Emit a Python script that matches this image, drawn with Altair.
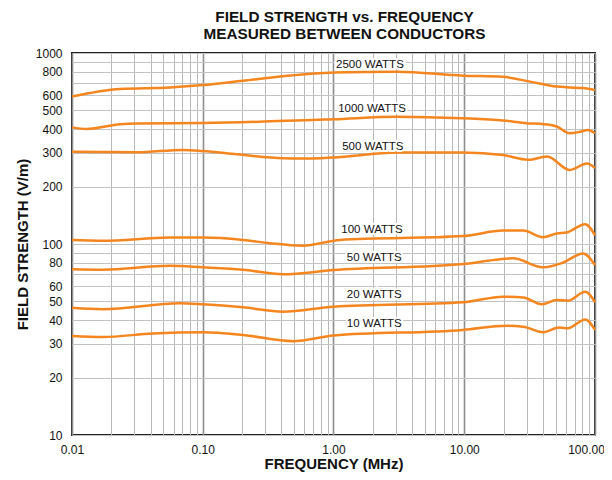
import altair as alt
import pandas as pd

# ---- data ----
freq_2500 = [0.01, 0.0233, 0.0562, 0.1, 0.203, 0.41, 1.0, 3.06, 9.8, 19.8, 31.8, 51, 64, 81, 100]
fs_2500 = [592, 648, 660, 679, 716, 755, 790, 798, 761, 750, 708, 667, 660, 655, 640]

freq_1000 = [0.01, 0.0129, 0.0233, 0.0314, 0.1, 1.0, 3.06, 9.8, 19.8, 30.8, 37.9, 51, 64, 77, 88, 100]
fs_1000 = [408, 400, 424, 428, 430, 450, 464, 455, 443, 428, 426, 412, 380, 387, 395, 380]

freq_500 = [0.01, 0.0314, 0.0706, 0.1, 0.183, 0.41, 0.58, 1.0, 3.06, 9.8, 19.8, 30.8, 43, 64, 87, 100]
fs_500 = [304, 302, 311, 307, 295, 281, 280, 284, 301, 301, 292, 276, 287, 244, 264, 250]

freq_100 = [0.01, 0.0172, 0.0562, 0.1, 0.203, 0.326, 0.58, 1.12, 9.8, 19.8, 28.3, 40, 51, 60.8, 84.2, 100]
fs_100 = [105, 104, 108, 108, 105, 101, 98, 105, 110, 117.5, 117.5, 108.4, 113.6, 115, 127, 111]

freq_50 = [0.01, 0.0172, 0.0562, 0.1, 0.203, 0.41, 1.0, 9.8, 23.6, 40, 56.7, 81, 100]
fs_50 = [73.7, 73.3, 76.9, 75.5, 73.3, 69.4, 73, 78.5, 84.1, 75.5, 79.8, 89.3, 77.6]

freq_20 = [0.01, 0.0172, 0.067, 0.1, 0.203, 0.41, 1.0, 9.8, 19.8, 28.3, 39.3, 51, 62, 84.2, 100]
fs_20 = [46.4, 45.6, 48.9, 48.3, 46.6, 44.2, 47, 49.5, 53, 52.4, 48.3, 50.9, 50.5, 56.2, 49.5]

freq_10 = [0.01, 0.0172, 0.0416, 0.1, 0.203, 0.49, 1.0, 9.8, 21.3, 28.3, 40, 53.5, 62, 84.2, 100]
fs_10 = [33, 32.6, 34, 34.5, 33.4, 31, 33.2, 35.5, 37.3, 36.9, 34.5, 36.5, 36.2, 40.3, 35.5]

series_names = ["2500 WATTS", "1000 WATTS", "500 WATTS", "100 WATTS", "50 WATTS", "20 WATTS", "10 WATTS"]
label_freq = [1.9, 1.97, 2.0, 1.97, 2.05, 2.05, 2.05]
label_value = [865, 509, 322, 118, 84.5, 54, 38.1]

x_grid_values = [0.01, 0.02, 0.03, 0.04, 0.05, 0.06, 0.07, 0.08, 0.09,
                 0.1, 0.2, 0.3, 0.4, 0.5, 0.6, 0.7, 0.8, 0.9,
                 1, 2, 3, 4, 5, 6, 7, 8, 9,
                 10, 20, 30, 40, 50, 60, 70, 80, 90, 100]
x_label_values = [0.01, 0.1, 1, 10, 100]
y_grid_values = [10, 20, 30, 40, 50, 60, 70, 80, 90,
                 100, 200, 300, 400, 500, 600, 700, 800, 900, 1000]
y_label_values = [10, 20, 30, 40, 50, 60, 80, 100, 200, 300, 400, 500, 600, 800, 1000]

# ---- build tables ----
all_freqs = [freq_2500, freq_1000, freq_500, freq_100, freq_50, freq_20, freq_10]
all_vals = [fs_2500, fs_1000, fs_500, fs_100, fs_50, fs_20, fs_10]
rows = []
for name, fr, vs in zip(series_names, all_freqs, all_vals):
    for f, v in zip(fr, vs):
        rows.append({"series": name, "freq": f, "value": v})
df = pd.DataFrame(rows)
labels_df = pd.DataFrame({"text": series_names, "freq": label_freq, "value": label_value})

FONT = "Liberation Sans"
ORANGE = "#f5861f"

x_major = "indexof([" + ",".join(str(v) for v in x_label_values) + "], datum.value) >= 0"
y_major = "indexof([" + ",".join(str(v) for v in y_label_values) + "], datum.value) >= 0"

x_scale = alt.Scale(type="log", domain=[0.01, 100], nice=False)
y_scale = alt.Scale(type="log", domain=[10, 1000], nice=False)

x_enc = alt.X("freq:Q", scale=x_scale, title="FREQUENCY (MHz)",
              axis=alt.Axis(values=x_grid_values, format=".2f",
                            labelExpr=x_major + " ? datum.label : ''",
                            labelOverlap=False, labelFlush=False, ticks=False, domain=False,
                            labelPadding=9, titlePadding=1,
                            labelOffset={"condition": {"test": "datum.value >= 100", "value": -9}, "value": 0},
                            gridColor={"condition": {"test": x_major, "value": "#8e8e8e"}, "value": "#b8b8b8"},
                            gridWidth={"condition": {"test": x_major, "value": 1.6}, "value": 1}))
y_enc = alt.Y("value:Q", scale=y_scale, title="FIELD STRENGTH (V/m)",
              axis=alt.Axis(values=y_grid_values, format="d",
                            labelExpr=y_major + " ? datum.label : ''",
                            labelOverlap=False, ticks=False, domain=False,
                            labelPadding=10, titlePadding=5,
                            gridColor="#c2c2c2", gridWidth=1))

lines = alt.Chart(df).mark_line(color=ORANGE, strokeWidth=2.5, interpolate="monotone").encode(
    x=x_enc, y=y_enc, detail="series:N", order="freq:Q")

halo = alt.Chart(labels_df).mark_text(font=FONT, fontSize=11.5, color="white", stroke="white",
                                      strokeWidth=4).encode(
    x=alt.X("freq:Q", scale=x_scale), y=alt.Y("value:Q", scale=y_scale), text="text:N")
text = alt.Chart(labels_df).mark_text(font=FONT, fontSize=11.5, color="#111").encode(
    x=alt.X("freq:Q", scale=x_scale), y=alt.Y("value:Q", scale=y_scale), text="text:N")

chart = alt.layer(lines, halo, text).properties(
    width=523, height=382,
    padding={"left": 64, "top": 45, "right": 9, "bottom": 37},
    autosize=alt.AutoSizeParams(type="none"),
    title=alt.TitleParams(["FIELD STRENGTH vs. FREQUENCY", "MEASURED BETWEEN CONDUCTORS"],
                          font=FONT, fontSize=15.3, fontWeight="bold", color="#111",
                          lineHeight=17, offset=5, dx=11, anchor="middle"),
).configure_view(stroke="#222", strokeWidth=2).configure_axis(
    labelFont=FONT, labelFontSize=12, labelColor="#111",
    titleFont=FONT, titleFontSize=15, titleFontWeight="bold", titleColor="#111",
)

chart.save("out.html", embed_options={"renderer": "svg", "actions": False})
